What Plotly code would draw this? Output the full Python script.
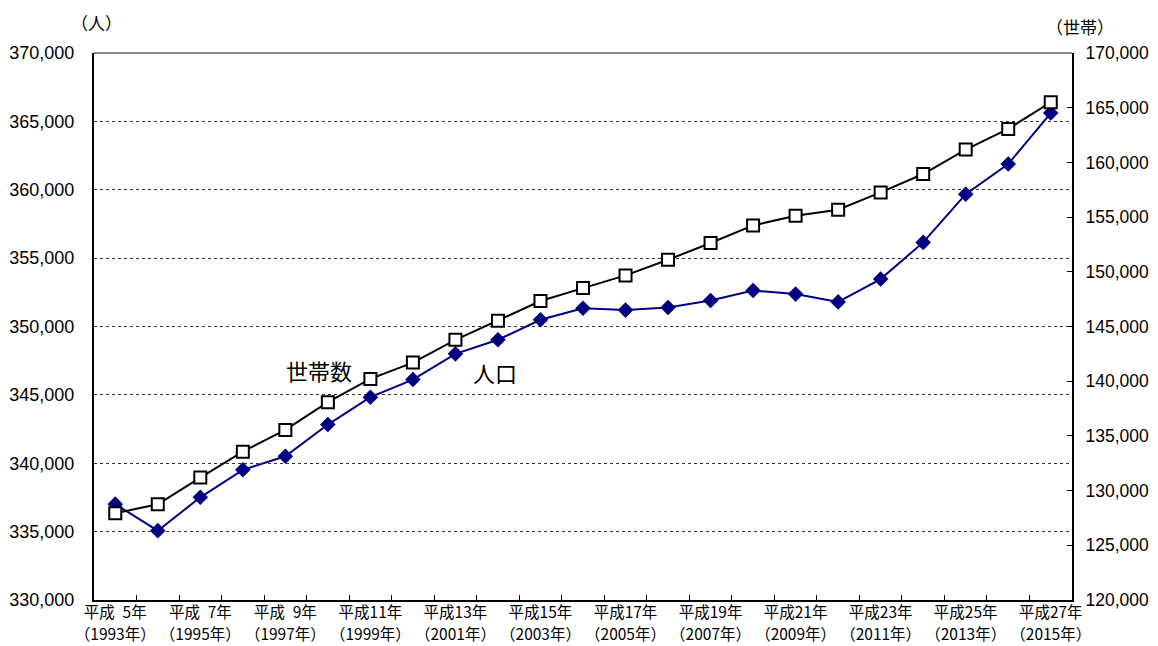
import plotly.graph_objects as go

years = list(range(1993, 2016))
heisei = [y - 1988 for y in years]

population = [337010, 335070, 337510, 339520, 340510, 342830, 344830, 346120,
              348000, 349030, 350490, 351340, 351200, 351390, 351900, 352630,
              352370, 351800, 353470, 356150, 359680, 361880, 365610]
households = [127930, 128750, 131190, 133560, 135550, 138080, 140210, 141700,
              143780, 145520, 147330, 148510, 149670, 151100, 152630, 154240,
              155130, 155680, 157260, 158940, 161170, 163060, 165500]

left_ticks = [330000, 335000, 340000, 345000, 350000, 355000, 360000, 365000, 370000]
right_ticks = [120000, 125000, 130000, 135000, 140000, 145000, 150000, 155000,
               160000, 165000, 170000]

x = list(range(len(years)))
label_idx = list(range(0, len(years), 2))
era_text = []
year_text = []
for i in label_idx:
    h = heisei[i]
    hs = f"\u2002{h}" if h < 10 else f"{h}"
    era_text.append(f"平成{hs}年")
    year_text.append(f"（{years[i]}年）")

FONT = "Liberation Sans, Arial, Noto Sans CJK JP"
JFONT = "Noto Sans CJK JP"
XR = [-0.5, len(years) - 0.5]

fig = go.Figure()
fig.add_trace(go.Scatter(
    x=x, y=population, mode="lines+markers", name="人口",
    line=dict(color="#000080", width=2),
    marker=dict(symbol="diamond", size=12, color="#000080"),
    yaxis="y", showlegend=False))
fig.add_trace(go.Scatter(
    x=x, y=households, mode="lines+markers", name="世帯数",
    line=dict(color="#000000", width=2),
    marker=dict(symbol="square", size=12, color="white",
                line=dict(color="black", width=2)),
    yaxis="y2", showlegend=False))
# invisible helper trace so that the second (year) label axis is drawn
fig.add_trace(go.Scatter(
    x=x, y=population, mode="markers", marker=dict(opacity=0),
    xaxis="x2", yaxis="y", hoverinfo="skip", showlegend=False))

fig.update_layout(
    width=1142, height=638,
    margin=dict(l=86, r=78, t=45, b=46, autoexpand=False),
    paper_bgcolor="white", plot_bgcolor="white",
    font=dict(family=FONT, color="black"),
    xaxis=dict(
        range=XR, automargin=False,
        tickmode="array", tickvals=label_idx, ticktext=era_text,
        ticks="", showgrid=False, zeroline=False, tickangle=0,
        showline=True, linecolor="black", linewidth=2,
        tickfont=dict(family=JFONT, size=15.5, color="black"),
        ticklabelstandoff=-3,
        minor=dict(tickmode="array",
                   tickvals=[i - 0.5 for i in range(1, len(years))],
                   ticks="inside", ticklen=5, tickcolor="black", tickwidth=1,
                   showgrid=False),
    ),
    xaxis2=dict(
        range=XR, automargin=False, overlaying="x", side="bottom", anchor="y",
        tickmode="array", tickvals=label_idx, ticktext=year_text,
        ticks="", showgrid=False, zeroline=False, showline=False, tickangle=0,
        tickfont=dict(family=JFONT, size=15.5, color="black"),
        ticklabelstandoff=23,
    ),
    yaxis=dict(
        range=[330000, 370000], tickvals=left_ticks, automargin=False,
        tickformat=",d", ticks="", showgrid=True,
        gridcolor="#333333", griddash="dot", gridwidth=1,
        zeroline=False, showline=True, linecolor="black", linewidth=2,
        tickfont=dict(family=FONT, size=18, color="black"),
        ticklabelstandoff=14,
    ),
    yaxis2=dict(
        range=[120000, 170000], tickvals=right_ticks, automargin=False,
        tickformat=",d", overlaying="y", side="right",
        ticks="inside", ticklen=5, tickcolor="black",
        showgrid=False, zeroline=False,
        showline=True, linecolor="black", linewidth=2,
        tickfont=dict(family=FONT, size=17.5, color="black"),
        ticklabelstandoff=8,
    ),
)

# top border of plot area (gray)
fig.add_shape(type="line", xref="paper", yref="paper", x0=0, x1=1, y0=1, y1=1,
              line=dict(color="#888888", width=2))

fig.add_annotation(text="（人）", xref="paper", yref="paper", x=-0.026, y=1.055,
                   yanchor="middle", showarrow=False,
                   font=dict(family=JFONT, size=17, color="black"))
fig.add_annotation(text="（世帯）", xref="paper", yref="paper", x=1.045, y=1.049,
                   yanchor="middle", showarrow=False,
                   font=dict(family=JFONT, size=17, color="black"))
fig.add_annotation(text="世帯数", x=4.8, y=346800, xref="x", yref="y",
                   showarrow=False, font=dict(family=JFONT, size=22, color="black"))
fig.add_annotation(text="人口", x=8.92, y=346700, xref="x", yref="y",
                   showarrow=False, font=dict(family=JFONT, size=22, color="black"))

fig.write_html("out.html")
